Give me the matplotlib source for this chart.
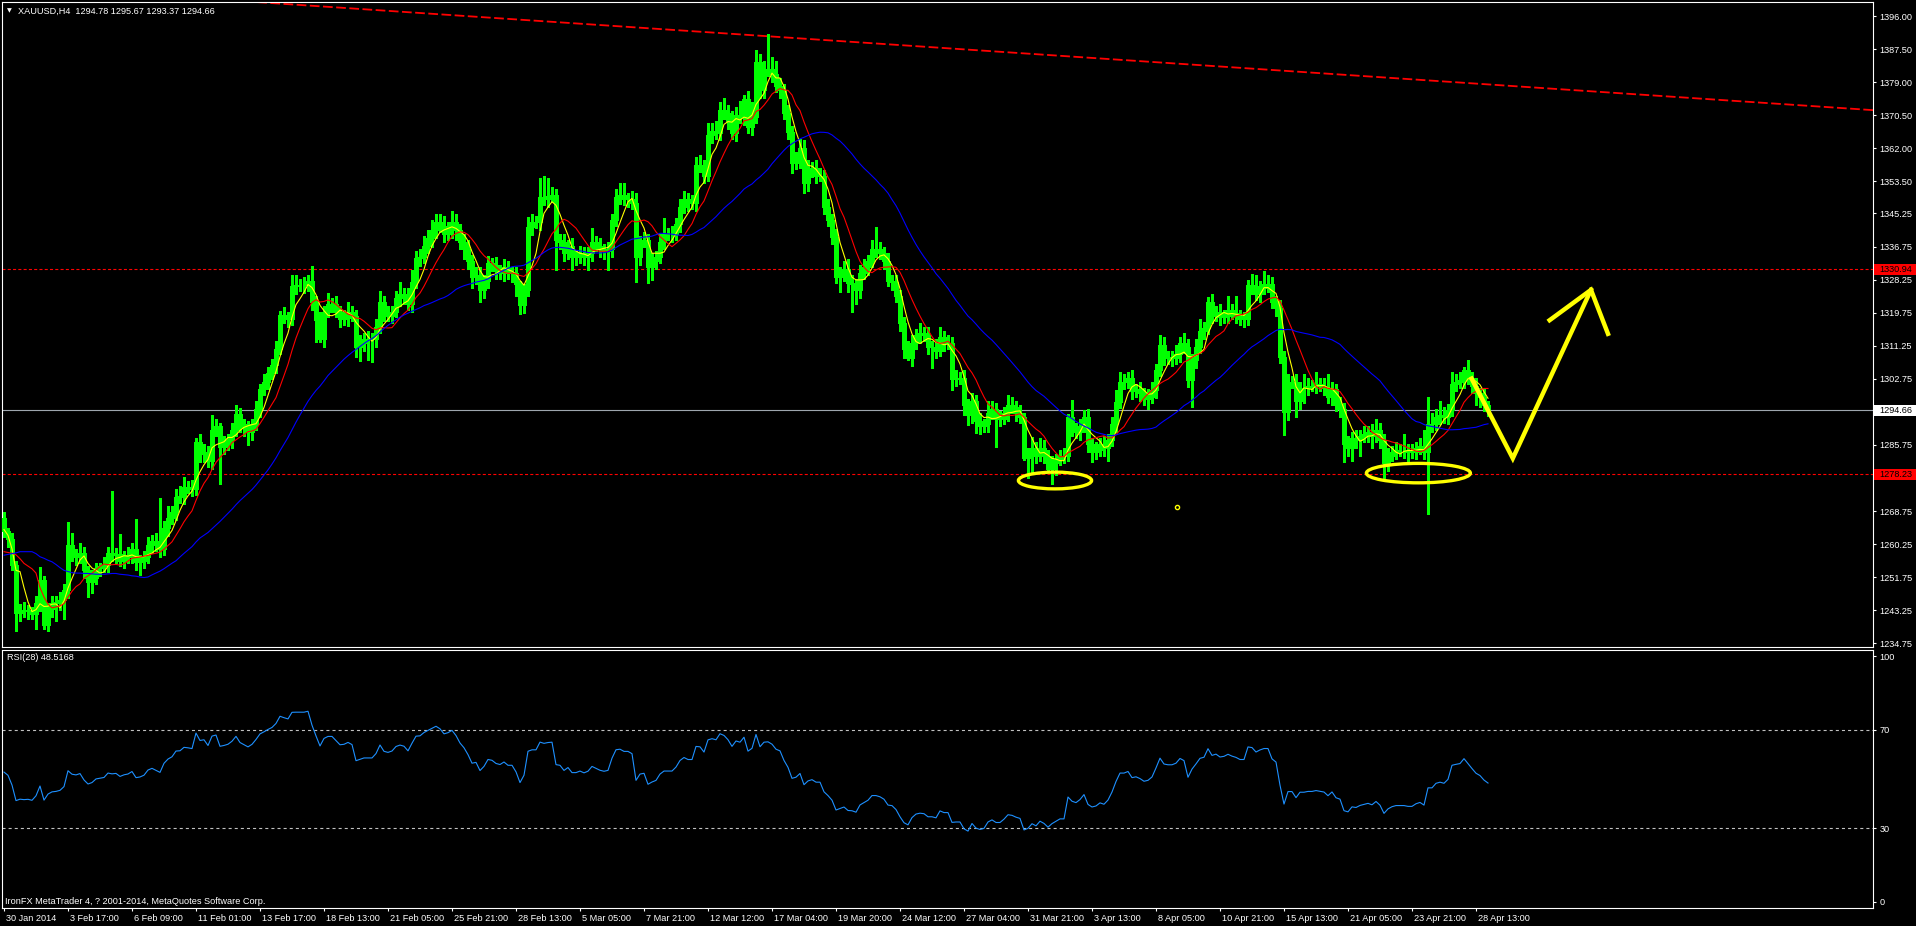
import numpy as np
import matplotlib
matplotlib.use("Agg")
import matplotlib.pyplot as plt
from matplotlib.patches import Ellipse, Rectangle
from matplotlib.transforms import ScaledTranslation, blended_transform_factory

plt.rcParams['font.family'] = ['Liberation Sans', 'DejaVu Sans']
plt.rcParams['lines.scale_dashes'] = False

W, H = 1916, 926

# ---- chart texts ----
symbol_title = "XAUUSD,H4  1294.78 1295.67 1293.37 1294.66"
rsi_title = "RSI(28) 48.5168"
footer_text = "IronFX MetaTrader 4, ? 2001-2014, MetaQuotes Software Corp."

# ---- H4 candles (one value per bar) ----
first_open = 1267.0
closes = [
    1263.5, 1261.5, 1255.0, 1242.5, 1243.4, 1243.0, 1243.2, 1242.4, 1245.0, 1251.0,
    1239.5, 1243.5, 1245.0, 1245.3, 1246.0, 1248.4, 1260.0, 1257.5, 1257.0, 1258.0,
    1253.5, 1250.5, 1251.5, 1254.0, 1254.5, 1255.0, 1258.0, 1257.5, 1257.8, 1256.0,
    1257.0, 1257.5, 1259.0, 1255.6, 1256.0, 1257.0, 1260.0, 1261.0, 1260.0, 1259.0,
    1264.3, 1267.0, 1268.5, 1272.4, 1272.6, 1275.0, 1274.8, 1274.5, 1286.6, 1283.4,
    1284.0, 1281.5, 1289.5, 1290.5, 1285.3, 1286.0, 1287.0, 1289.5, 1293.8, 1291.0,
    1290.0, 1289.0, 1291.0, 1295.0, 1300.0, 1302.0, 1304.3, 1306.3, 1310.5, 1319.1,
    1318.5, 1318.0, 1326.6, 1326.8, 1326.8, 1326.8, 1328.0, 1322.5, 1317.8, 1313.0,
    1320.0, 1322.0, 1322.0, 1320.0, 1318.0, 1318.4, 1320.0, 1319.0, 1311.0, 1312.0,
    1313.0, 1313.0, 1313.0, 1316.0, 1322.5, 1319.5, 1319.0, 1320.0, 1323.4, 1324.5,
    1324.0, 1322.0, 1327.7, 1333.7, 1334.0, 1337.0, 1339.0, 1341.0, 1343.0, 1342.0,
    1340.0, 1341.0, 1343.0, 1341.0, 1338.0, 1336.0, 1333.0, 1329.0, 1329.5, 1325.5,
    1328.0, 1332.4, 1332.0, 1330.5, 1330.0, 1331.5, 1330.0, 1330.0, 1327.0, 1321.6,
    1325.5, 1341.8, 1343.0, 1343.0, 1349.6, 1349.0, 1349.7, 1350.0, 1338.4, 1338.0,
    1335.0, 1337.0, 1334.0, 1334.0, 1335.0, 1334.0, 1335.0, 1338.0, 1337.0, 1336.0,
    1335.5, 1336.0, 1343.5, 1349.6, 1350.0, 1349.0, 1349.0, 1348.0, 1334.0, 1338.0,
    1338.5, 1331.6, 1333.0, 1334.0, 1338.0, 1340.0, 1340.0, 1340.0, 1342.5, 1346.9,
    1349.0, 1348.0, 1348.0, 1357.7, 1357.5, 1355.0, 1365.4, 1366.5, 1366.0, 1371.8,
    1371.0, 1369.0, 1365.8, 1370.6, 1370.0, 1374.6, 1367.5, 1370.0, 1384.2, 1377.0,
    1382.0, 1382.4, 1381.0, 1378.0, 1377.0, 1371.0, 1366.3, 1358.1, 1359.0, 1362.0,
    1353.0, 1356.0, 1357.0, 1355.0, 1355.0, 1347.0, 1343.6, 1339.3, 1329.0, 1330.0,
    1331.0, 1327.3, 1327.0, 1325.5, 1330.0, 1331.5, 1333.0, 1336.0, 1336.0, 1335.0,
    1333.0, 1328.0, 1327.5, 1324.0, 1317.0, 1310.5, 1308.0, 1312.0, 1314.0, 1314.5,
    1314.0, 1311.0, 1311.0, 1310.0, 1313.5, 1312.0, 1312.0, 1302.8, 1303.0, 1303.0,
    1296.0, 1293.4, 1297.0, 1292.0, 1290.5, 1291.0, 1294.0, 1295.0, 1292.5, 1292.5,
    1294.0, 1296.0, 1295.5, 1294.0, 1293.0, 1282.3, 1283.0, 1285.0, 1283.0, 1285.0,
    1283.0, 1279.5, 1281.0, 1282.0, 1283.0, 1283.0, 1293.0, 1290.0, 1289.0, 1290.5,
    1293.0, 1286.0, 1284.0, 1284.5, 1286.0, 1285.0, 1287.0, 1291.0, 1296.8, 1302.0,
    1302.0, 1303.0, 1299.5, 1300.0, 1299.0, 1297.5, 1298.0, 1299.8, 1305.0, 1311.4,
    1308.4, 1308.0, 1308.0, 1309.0, 1312.0, 1311.0, 1302.4, 1307.5, 1311.0, 1315.0,
    1315.8, 1322.5, 1319.0, 1320.0, 1318.5, 1319.0, 1320.5, 1319.6, 1319.0, 1318.0,
    1318.0, 1326.8, 1326.5, 1324.5, 1326.0, 1327.0, 1327.0, 1322.5, 1321.0, 1308.4,
    1294.2, 1302.0, 1302.0, 1297.0, 1300.5, 1300.5, 1301.0, 1301.0, 1301.5, 1301.0,
    1300.5, 1298.0, 1300.0, 1296.0, 1295.0, 1286.0, 1285.0, 1287.5, 1287.0, 1288.0,
    1288.5, 1289.0, 1288.0, 1289.5, 1287.0, 1281.0, 1283.0, 1284.0, 1284.5, 1284.5,
    1284.5, 1284.0, 1284.0, 1285.0, 1285.5, 1284.0, 1291.0, 1291.0, 1293.0, 1293.5,
    1293.0, 1294.7, 1301.5, 1302.0, 1302.4, 1305.0, 1303.0, 1301.0, 1299.0, 1298.0,
    1296.0, 1294.66,
]
# shadow lengths above / below the body
wick_up = [
    1.5, 1.0, 1.5, 1.0, 1.5, 2.0, 1.5, 1.0, 2.0, 3.4,
    1.0, 1.5, 2.0, 1.5, 2.0, 1.5, 6.0, 3.0, 1.5, 2.5,
    1.5, 1.0, 2.0, 1.5, 1.0, 2.0, 1.5, 16.0, 1.5, 5.0,
    1.5, 2.0, 1.5, 7.8, 1.5, 1.5, 2.0, 1.5, 2.0, 12.0,
    2.0, 3.0, 1.5, 2.0, 2.5, 2.5, 1.5, 2.0, 1.0, 2.0,
    2.0, 1.5, 3.9, 2.0, 1.0, 2.0, 1.5, 2.0, 2.2, 1.5,
    1.5, 2.0, 1.5, 2.0, 1.5, 2.0, 1.5, 1.5, 2.0, 1.0,
    2.0, 1.5, 2.8, 2.5, 1.5, 2.0, 1.5, 3.7, 1.5, 2.0,
    1.5, 2.7, 1.5, 2.0, 1.5, 2.0, 2.5, 1.5, 1.5, 2.0,
    1.5, 2.0, 1.5, 2.0, 2.8, 1.5, 2.0, 1.5, 2.0, 3.2,
    1.5, 2.0, 3.0, 2.0, 2.0, 2.5, 2.0, 2.5, 2.0, 2.0,
    2.5, 2.0, 3.0, 2.0, 1.5, 2.0, 2.5, 1.5, 2.0, 2.0,
    1.5, 2.0, 1.5, 2.0, 1.5, 2.0, 1.5, 1.5, 1.5, 1.0,
    1.5, 2.6, 2.0, 1.5, 4.7, 5.3, 4.6, 2.0, 1.5, 1.5,
    2.0, 1.5, 2.0, 1.5, 2.0, 1.5, 1.5, 3.4, 1.5, 2.0,
    1.5, 2.0, 1.5, 2.0, 3.0, 3.0, 1.5, 2.0, 2.5, 1.5,
    2.0, 1.5, 2.0, 1.5, 2.0, 4.0, 1.5, 2.0, 1.5, 2.0,
    2.0, 1.5, 2.0, 2.0, 2.5, 1.5, 3.0, 2.0, 2.5, 2.2,
    3.0, 2.0, 2.5, 2.0, 3.5, 1.1, 2.0, 4.0, 3.1, 2.0,
    2.5, 9.1, 3.0, 3.5, 2.0, 1.5, 2.0, 1.5, 2.0, 2.5,
    2.0, 3.0, 1.5, 2.0, 2.0, 1.5, 2.0, 1.5, 2.0, 1.5,
    2.0, 2.6, 2.0, 1.5, 2.0, 2.0, 1.5, 2.5, 5.8, 2.0,
    1.5, 2.0, 1.5, 2.0, 1.5, 1.5, 2.0, 2.0, 1.5, 2.5,
    1.5, 2.0, 1.5, 2.0, 2.5, 1.5, 2.0, 1.5, 2.0, 1.5,
    2.0, 1.5, 2.0, 1.5, 2.0, 1.5, 3.0, 2.0, 1.5, 2.0,
    1.5, 2.5, 2.0, 1.5, 2.0, 1.0, 2.0, 2.8, 1.5, 2.5,
    2.0, 1.5, 2.0, 1.5, 1.5, 2.0, 0.8, 4.3, 1.5, 2.0,
    1.7, 2.0, 1.5, 2.0, 1.5, 2.0, 1.5, 2.0, 3.0, 2.5,
    2.0, 1.5, 2.0, 1.5, 2.0, 1.5, 2.0, 2.0, 1.5, 2.5,
    2.0, 1.5, 2.0, 2.5, 1.5, 2.5, 2.0, 1.5, 2.0, 3.0,
    1.5, 1.3, 2.0, 1.5, 2.0, 1.5, 3.5, 1.5, 4.5, 1.5,
    2.0, 1.3, 2.9, 3.0, 2.0, 3.5, 2.5, 2.0, 1.5, 2.0,
    1.5, 2.0, 1.5, 2.0, 1.5, 3.5, 2.0, 1.5, 3.0, 1.5,
    2.0, 3.5, 2.0, 1.5, 2.0, 1.5, 2.0, 1.5, 2.0, 1.5,
    2.0, 1.5, 2.0, 3.0, 2.0, 1.5, 2.0, 1.5, 2.0, 1.5,
    4.0, 1.5, 2.0, 1.5, 2.0, 4.0, 7.0, 3.0, 2.0, 3.5,
    2.0, 1.5, 3.0, 2.0, 2.0, 0.8, 2.5, 1.5, 2.0, 1.5,
    2.0, 1.0,
]
wick_dn = [
    1.5, 2.0, 1.5, 4.7, 2.0, 1.5, 2.0, 1.5, 4.0, 2.0,
    1.0, 1.5, 2.0, 4.5, 2.0, 5.0, 2.0, 1.5, 2.0, 1.5,
    2.0, 3.8, 2.8, 1.5, 2.0, 1.5, 2.0, 1.5, 2.0, 1.5,
    2.0, 1.5, 2.0, 2.0, 3.3, 2.0, 1.5, 2.0, 1.5, 2.0,
    1.5, 2.0, 1.5, 2.0, 1.5, 2.0, 1.5, 2.0, 1.5, 2.0,
    2.0, 1.5, 2.0, 1.5, 9.5, 2.0, 1.5, 2.0, 1.5, 2.0,
    2.0, 3.3, 2.0, 1.5, 2.0, 1.5, 2.0, 1.5, 2.0, 1.5,
    1.5, 2.0, 1.5, 2.0, 1.5, 2.0, 1.5, 2.0, 5.5, 0.7,
    2.0, 1.5, 2.0, 1.5, 2.0, 1.5, 2.0, 1.5, 2.6, 3.6,
    2.0, 5.5, 5.9, 2.0, 1.5, 2.0, 1.5, 2.0, 1.5, 2.0,
    2.0, 1.5, 2.0, 1.5, 2.0, 1.5, 2.0, 2.5, 2.0, 1.5,
    2.0, 1.5, 2.0, 2.5, 2.0, 2.5, 2.0, 3.0, 2.0, 3.0,
    2.1, 2.0, 1.5, 2.0, 1.5, 2.0, 1.5, 2.5, 3.0, 2.1,
    2.0, 1.5, 2.0, 1.5, 2.0, 1.5, 2.0, 1.5, 7.7, 2.0,
    2.0, 1.5, 3.3, 2.0, 1.5, 2.0, 3.3, 2.0, 1.5, 2.0,
    2.0, 4.8, 2.0, 1.5, 2.0, 1.5, 2.0, 1.5, 6.3, 2.0,
    1.5, 4.3, 3.5, 2.0, 1.5, 2.0, 1.5, 2.0, 1.5, 2.0,
    1.5, 2.0, 1.5, 2.0, 1.5, 2.0, 1.5, 2.0, 1.5, 2.0,
    1.5, 2.0, 1.5, 2.0, 1.5, 2.0, 1.5, 2.0, 1.5, 2.0,
    2.0, 1.5, 2.0, 1.5, 2.0, 1.5, 2.0, 2.5, 1.5, 2.0,
    2.6, 2.0, 1.5, 2.0, 1.5, 2.0, 1.5, 2.0, 1.7, 4.0,
    2.0, 2.2, 7.0, 3.5, 2.0, 1.5, 2.0, 1.5, 2.0, 1.5,
    2.0, 1.5, 2.0, 1.5, 2.0, 2.5, 0.5, 2.0, 1.5, 2.0,
    1.5, 2.0, 5.5, 2.0, 1.5, 2.0, 1.5, 3.0, 2.0, 1.5,
    2.5, 2.6, 2.0, 3.3, 2.0, 1.5, 2.0, 1.5, 7.2, 2.0,
    1.5, 2.0, 1.5, 2.0, 1.5, 0.5, 5.0, 4.2, 2.0, 1.5,
    2.0, 0.7, 3.9, 3.0, 1.5, 2.0, 1.5, 2.0, 1.5, 2.0,
    1.5, 2.0, 2.6, 2.0, 1.5, 2.0, 3.5, 1.5, 2.0, 1.5,
    2.0, 1.5, 2.0, 1.5, 2.0, 1.5, 2.5, 1.5, 2.0, 1.5,
    2.0, 1.5, 2.0, 1.5, 2.0, 1.5, 1.7, 6.8, 2.0, 1.5,
    2.0, 1.5, 2.0, 1.5, 2.0, 1.5, 2.0, 1.5, 2.0, 1.5,
    2.0, 1.5, 2.0, 1.5, 2.0, 1.5, 2.0, 1.5, 2.0, 1.5,
    5.9, 2.0, 1.5, 4.0, 2.0, 4.0, 2.0, 1.5, 2.0, 1.5,
    2.0, 1.5, 2.0, 1.5, 2.0, 4.6, 2.0, 3.5, 2.0, 4.2,
    1.5, 2.0, 3.0, 1.5, 2.0, 3.9, 2.0, 1.5, 2.0, 1.5,
    2.0, 3.0, 1.5, 2.0, 1.5, 2.0, 15.9, 2.0, 1.5, 2.0,
    1.5, 2.0, 1.5, 2.0, 1.5, 2.0, 1.5, 2.0, 3.0, 2.5,
    1.5, 1.5,
]

# simple moving averages; the first period-1 values of each line are read
# off the chart (their history lies left of the window)
ma_periods = [5, 10, 34]
ma_colors = ["#ffff00", "#ff0000", "#0000ff"]
ma_fast_lead = [1264.0, 1262.5, 1259.0, 1253.5]
ma_mid_lead = [1258.3, 1258.1, 1257.9, 1257.5, 1256.5, 1255.3, 1254.6, 1253.9,
               1252.8]
ma_slow_lead = [1257.4, 1257.6, 1257.8, 1258.0, 1258.3, 1258.3, 1258.3, 1258.3,
                1257.8, 1257.0, 1256.6, 1256.1, 1255.7, 1255.0, 1254.2, 1253.5,
                1253.2, 1252.9, 1252.8, 1252.8, 1252.7, 1252.7, 1252.6, 1252.5,
                1252.5, 1252.5, 1252.6, 1252.7, 1252.7, 1252.5, 1252.4, 1252.3,
                1252.1]
rsi_period = 28
rsi_seed_gain, rsi_seed_loss = 1.6, 1.3

# ---- axes ----
price_ticks = [1234.75, 1243.25, 1251.75, 1260.25, 1268.75, 1277.25, 1285.75,
               1294.25, 1302.75, 1311.25, 1319.75, 1328.25, 1336.75, 1345.25,
               1353.5, 1362.0, 1370.5, 1379.0, 1387.5, 1396.0]
hidden_price_ticks = [1277.25, 1294.25]  # covered by the price marks
rsi_ticks = [0, 30, 70, 100]
rsi_levels = [30, 70]
time_labels = ["30 Jan 2014", "3 Feb 17:00", "6 Feb 09:00", "11 Feb 01:00",
               "13 Feb 17:00", "18 Feb 13:00", "21 Feb 05:00", "25 Feb 21:00",
               "28 Feb 13:00", "5 Mar 05:00", "7 Mar 21:00", "12 Mar 12:00",
               "17 Mar 04:00", "19 Mar 20:00", "24 Mar 12:00", "27 Mar 04:00",
               "31 Mar 21:00", "3 Apr 13:00", "8 Apr 05:00", "10 Apr 21:00",
               "15 Apr 13:00", "21 Apr 05:00", "23 Apr 21:00", "28 Apr 13:00"]
bars_per_label = 16

# ---- horizontal levels and hand drawn objects ----
bid_price = 1294.66
level_prices = [1330.94, 1278.23]
trend_x = [60.0, 467.25]
trend_y = [1399.8, 1371.8]
arrow_x = [366.9, 377.2, 396.75]
arrow_y = [1302.8, 1282.3, 1325.6]
head_x = [386.4, 396.75, 401.0]
head_y = [1317.8, 1325.6, 1314.3]
ellipse_x = [262.75, 353.6]
ellipse_y = [1276.6, 1278.5]
ellipse_w = [18.3, 26.0]
ellipse_h = [4.3, 5.0]
dot_x, dot_y = 293.25, 1269.7


def sma(values, period, lead):
    out = np.empty(len(values))
    out[:len(lead)] = lead
    out[period - 1:] = np.convolve(values, np.ones(period) / period, "valid")
    return out


def wilder_rsi(values, prev_close, period, g0, l0):
    diffs = np.diff(np.r_[prev_close, values])
    g, l = g0, l0
    out = []
    for d in diffs:
        g = (g * (period - 1) + max(d, 0.0)) / period
        l = (l * (period - 1) + max(-d, 0.0)) / period
        out.append(100.0 - 100.0 / (1.0 + g / l))
    return np.array(out)


def fig_box(x0, y0, x1, y1):
    # pixel box (top-left origin) -> figure fraction rect
    return [x0 / W, 1 - y1 / H, (x1 - x0) / W, (y1 - y0) / H]


def main():
    c = np.array(closes)
    o = np.r_[first_open, c[:-1]]
    hi = np.maximum(o, c) + np.array(wick_up)
    lo = np.minimum(o, c) - np.array(wick_dn)
    x = np.arange(len(c))

    fig = plt.figure(figsize=(W / 100, H / 100), dpi=100, facecolor="black")
    ax = fig.add_axes(fig_box(2, 2, 1873, 647), facecolor="black")
    ax2 = fig.add_axes(fig_box(2, 650, 1873, 908), facecolor="black")

    xlim = (-0.5, 467.25)
    fs = 6.6
    for a in (ax, ax2):
        a.set_xlim(*xlim)
        for s in a.spines.values():
            s.set_color("white")
            s.set_linewidth(0.8)
        a.yaxis.tick_right()
        a.tick_params(axis="y", colors="white", length=2.5, width=0.8, pad=2,
                      labelsize=fs)

    # price pane
    ax.set_ylim(1233.8, 1399.6)
    ax.set_yticks(price_ticks)
    ax.set_yticklabels(["" if p in hidden_price_ticks else f"{p:.2f}"
                        for p in price_ticks])
    ax.tick_params(axis="x", bottom=False, labelbottom=False)

    ax.axhline(bid_price, color="#9ea6ae", lw=0.8, zorder=1)
    for p in level_prices:
        ax.axhline(p, color="#ff0000", lw=0.8, dashes=(2.2, 1.6), zorder=1)
    ax.plot(trend_x, trend_y, color="#ff0000", lw=1.3, dashes=(7, 2.5), zorder=1)

    ax.vlines(x, lo, hi, color="#00ff00", lw=0.8, zorder=2, antialiased=False)
    bull = c >= o
    ax.bar(x[bull], (c - o)[bull], bottom=o[bull], width=0.72, color="black",
           edgecolor="#00ff00", linewidth=0.75, zorder=3, antialiased=False)
    ax.bar(x[~bull], (o - c)[~bull], bottom=c[~bull], width=0.72, color="white",
           edgecolor="#00ff00", linewidth=0.75, zorder=3, antialiased=False)

    leads = [ma_fast_lead, ma_mid_lead, ma_slow_lead]
    for per, col, lead in zip(ma_periods, ma_colors, leads):
        ax.plot(x, sma(c, per, lead), color=col, lw=0.8, zorder=4)

    # hand drawn objects
    ax.plot(arrow_x, arrow_y, color="#ffff00", lw=3.2, zorder=5,
            solid_joinstyle="miter")
    ax.plot(head_x, head_y, color="#ffff00", lw=3.2, zorder=5,
            solid_joinstyle="miter")
    for ex, ey, ew, eh in zip(ellipse_x, ellipse_y, ellipse_w, ellipse_h):
        ax.add_patch(Ellipse((ex, ey), ew, eh, fill=False, ec="#ffff00",
                             lw=2.4, zorder=5))
    ax.plot([dot_x], [dot_y], "o", ms=3, mfc="none", mec="#ffff00", mew=1,
            zorder=5)

    # price marks on the scale
    tr = blended_transform_factory(ax.transAxes, ax.transData)
    ppu = 645 / (1399.6 - 1233.8)
    marks = [(1330.94, "#ff0000"), (bid_price, "#ffffff"), (1278.23, "#ff0000")]
    for p, col in marks:
        ax.add_patch(Rectangle((1.0005, p - 5.5 / ppu), 43 / 1871, 11 / ppu,
                               transform=tr, fc=col, ec="none", clip_on=False,
                               zorder=10))
        ax.text(1.0005 + 5 / 1871, p, f"{p:.2f}", transform=tr, color="black",
                fontsize=fs, va="center", ha="left", zorder=11, clip_on=False)

    # RSI pane
    ax2.set_ylim(-2.44, 102.44)
    ax2.set_yticks(rsi_ticks)
    ax2.set_yticklabels([str(t) for t in rsi_ticks])
    for lv in rsi_levels:
        ax2.axhline(lv, color="#c0c0c0", lw=0.8, dashes=(2.2, 2.2), zorder=1)
    ax2.plot(x, wilder_rsi(c, first_open, rsi_period, rsi_seed_gain,
                           rsi_seed_loss), color="#1e90ff", lw=0.8, zorder=3)

    ticks = [i * bars_per_label for i in range(len(time_labels))]
    ax2.set_xticks(ticks)
    ax2.set_xticklabels(time_labels, ha="left")
    ax2.tick_params(axis="x", colors="white", length=2.5, width=0.8, pad=1.5,
                    labelsize=fs)
    off = ScaledTranslation(2 / 100, 0, fig.dpi_scale_trans)
    for lbl in ax2.get_xticklabels():
        lbl.set_transform(lbl.get_transform() + off)

    # texts
    fig.text(9.5 / W, 1 - 11 / H, "\u25bc", color="white", fontsize=4.5,
             ha="center", va="center", family="DejaVu Sans")
    fig.text(18 / W, 1 - 11 / H, symbol_title, color="white", fontsize=fs,
             va="center", ha="left")
    fig.text(7 / W, 1 - 658 / H, rsi_title, color="white", fontsize=fs,
             va="center", ha="left")
    fig.text(5 / W, 1 - 901 / H, footer_text, color="white", fontsize=fs,
             va="center", ha="left")

    fig.savefig("out.png", dpi=100, facecolor="black")
    plt.close(fig)


if __name__ == "__main__":
    main()
